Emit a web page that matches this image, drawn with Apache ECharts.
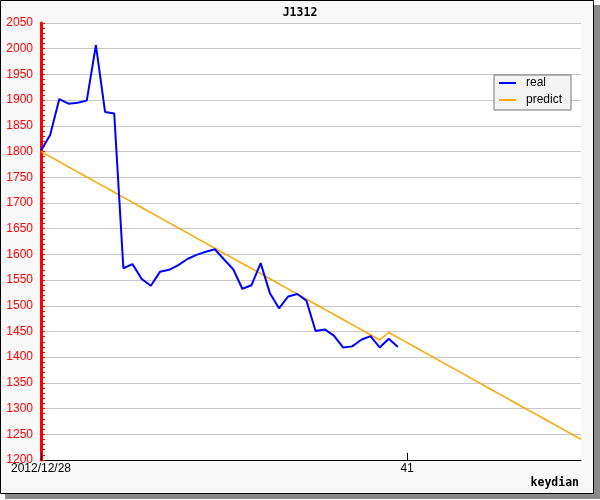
<!DOCTYPE html>
<html>
<head>
<meta charset="utf-8">
<script src="https://cdn.jsdelivr.net/npm/echarts@6/dist/echarts.min.js"></script>
<style>
  html, body { margin: 0; padding: 0; background: #fff; }
  #main { width: 600px; height: 500px; }
</style>
</head>
<body>
<div id="main"></div>
<script>
const titleText = 'J1312';
const xAxisName = 'keydian';
const xLabels = ['2012/12/28','2','3','4','5','6','7','8','9','10',
  '11','12','13','14','15','16','17','18','19','20',
  '21','22','23','24','25','26','27','28','29','30',
  '31','32','33','34','35','36','37','38','39','40',
  '41','42','43','44','45','46','47','48','49','50',
  '51','52','53','54','55','56','57','58','59','60'];
const realName = 'real';
const predictName = 'predict';
const realValues = [1802,1832,1902,1893,1895,1899,2007,1877,1874,1573,
  1581,1552,1539,1566,1570,1579,1591,1599,1605,1610,
  1590,1571,1533,1540,1583,1525,1495,1518,1523,1510,
  1451,1454,1442,1419,1421,1434,1441,1419,1436,1420];
const predictValues = [1800,1790.1,1780.2,1770.3,1760.4,1750.5,1740.6,1730.7,1720.8,1710.9,
  1701,1691.1,1681.2,1671.3,1661.4,1651.5,1641.6,1631.7,1621.8,1611.9,
  1602,1592.1,1582.2,1572.3,1562.4,1552.5,1542.6,1532.7,1522.8,1512.9,
  1503,1493.1,1483.2,1473.3,1463.4,1453.5,1443.6,1433.7,1448,1438.1,
  1428.2,1418.3,1408.4,1398.5,1388.6,1378.7,1368.8,1358.9,1349,1339.1,
  1329.2,1319.3,1309.4,1299.5,1289.6,1279.7,1269.8,1259.9,1250,1240.1];
const yMin = 1200, yMax = 2050, yStep = 50;

const chart = echarts.init(document.getElementById('main'), null, { renderer: 'canvas' });
chart.setOption({
  animation: false,
  backgroundColor: '#fff',
  graphic: [
    { type: 'rect', z: -10, silent: true, shape: { x: 5, y: 5, width: 595, height: 494 }, style: { fill: '#8a8a8a' } },
    { type: 'rect', z: -9, silent: true, shape: { x: 0.5, y: 0.5, width: 593, height: 493 }, style: { fill: '#f8f8f8', stroke: '#000', lineWidth: 1 } }
  ],
  title: {
    text: titleText, left: 'center', top: 7, padding: 0,
    textStyle: { fontFamily: 'DejaVu Sans Mono', fontWeight: 'bold', fontSize: 11.5, color: '#000' }
  },
  legend: {
    orient: 'vertical', left: 494, top: 75,
    padding: [2, 9, 4, 5], itemGap: 5,
    backgroundColor: '#f3f3f3', borderColor: '#777', borderWidth: 1, borderRadius: 0,
    icon: 'rect', itemWidth: 17, itemHeight: 2,
    textStyle: { fontFamily: 'Liberation Sans', fontSize: 12, color: '#000', padding: [0, 0, 0, 5] },
    data: [realName, predictName]
  },
  grid: { left: 41, right: 19, top: 23, bottom: 40, show: true, backgroundColor: '#fff', borderWidth: 0, containLabel: false },
  xAxis: {
    type: 'category', data: xLabels, boundaryGap: false,
    name: xAxisName, nameLocation: 'end', nameGap: -2,
    nameTextStyle: { fontFamily: 'DejaVu Sans Mono', fontWeight: 'bold', fontSize: 11.5, color: '#000', align: 'right', verticalAlign: 'top', padding: [17, 0, 0, 0] },
    axisLine: { lineStyle: { color: '#000', width: 1 } },
    axisTick: { show: true, inside: true, length: 7, interval: 39, lineStyle: { color: '#000' } },
    axisLabel: { interval: 39, margin: 3, fontFamily: 'Liberation Sans', fontSize: 12, color: '#000' },
    splitLine: { show: false }
  },
  yAxis: {
    type: 'value', min: yMin, max: yMax, interval: yStep,
    axisLine: { show: true, lineStyle: { color: '#ff0000', width: 3 } },
    axisTick: { show: true, inside: true, length: 4, lineStyle: { color: '#ff0000', width: 1 } },
    minorTick: { show: true, splitNumber: 5, length: 4, lineStyle: { color: '#ff0000', width: 1 } },
    axisLabel: { margin: 8, fontFamily: 'Liberation Sans', fontSize: 12, color: '#ff0000', formatter: function (v) { return String(v); } },
    splitLine: { show: true, lineStyle: { color: '#c8c8c8', width: 1 } }
  },
  series: [
    { name: realName, type: 'line', data: realValues, showSymbol: false, symbol: 'none', lineStyle: { color: '#0000ff', width: 2 }, itemStyle: { color: '#0000ff' }, z: 3 },
    { name: predictName, type: 'line', data: predictValues, showSymbol: false, symbol: 'none', lineStyle: { color: '#ffa500', width: 1.5 }, itemStyle: { color: '#ffa500' }, z: 2 }
  ]
});
</script>
</body>
</html>
